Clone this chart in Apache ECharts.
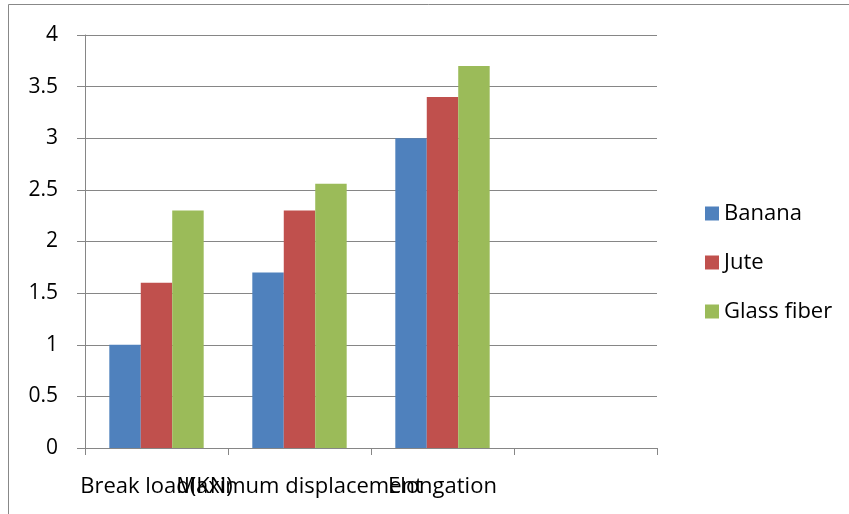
<!DOCTYPE html>
<html>
<head>
<meta charset="utf-8">
<script src="https://cdn.jsdelivr.net/npm/echarts@6/dist/echarts.min.js"></script>
<style>
  html, body { margin: 0; padding: 0; background: #fff; }
  #chart { width: 849px; height: 514px; }
</style>
</head>
<body>
<div id="chart"></div>
<script>
// Test categories (the fourth slot is left empty)
const categories = ['Break load(KN)', 'Maximum displacement', 'Elongation', ''];
const seriesNames = ['Banana', 'Jute', 'Glass fiber'];
const banana = [1.0, 1.7, 3.0, null];
const jute = [1.6, 2.3, 3.4, null];
const glassFiber = [2.3, 2.56, 3.7, null];
const yTicks = [0, 0.5, 1, 1.5, 2, 2.5, 3, 3.5, 4];

const colors = ['#4f81bd', '#c0504d', '#9bbb59'];
const gridColor = '#868686';
const font = '"Open Sans", "Liberation Sans", sans-serif';

const chart = echarts.init(document.getElementById('chart'), null, { renderer: 'canvas' });

const values = [banana, jute, glassFiber];

chart.setOption({
  animation: false,
  backgroundColor: '#ffffff',
  textStyle: { fontFamily: font },
  graphic: [
    { type: 'line', shape: { x1: 8.5, y1: 4.5, x2: 849, y2: 4.5 }, style: { stroke: '#888', lineWidth: 1 } },
    { type: 'line', shape: { x1: 8.5, y1: 4.5, x2: 8.5, y2: 514 }, style: { stroke: '#888', lineWidth: 1 } }
  ],
  grid: { left: 85, right: 192, top: 35, bottom: 66, containLabel: false },
  legend: {
    orient: 'vertical',
    left: 700,
    top: 197,
    itemWidth: 14,
    itemHeight: 14,
    itemGap: 26,
    icon: 'rect',
    textStyle: { fontFamily: font, fontSize: 22, lineHeight: 23, color: '#000' },
    data: seriesNames
  },
  xAxis: {
    type: 'category',
    data: categories,
    boundaryGap: true,
    axisLine: { lineStyle: { color: gridColor, width: 1 } },
    axisTick: { show: true, alignWithLabel: false, length: 7, lineStyle: { color: gridColor } },
    axisLabel: {
      interval: 0,
      margin: 28,
      color: '#000',
      fontFamily: font,
      fontSize: 22,
      hideOverlap: false
    }
  },
  yAxis: {
    type: 'value',
    min: 0,
    max: 4,
    interval: 0.5,
    axisLine: { show: true, lineStyle: { color: gridColor, width: 1 } },
    axisTick: { show: true, length: 8, lineStyle: { color: gridColor } },
    splitLine: { show: true, lineStyle: { color: gridColor, width: 1 } },
    axisLabel: {
      margin: 27,
      color: '#000',
      fontFamily: font,
      fontSize: 21,
      formatter: v => (yTicks.indexOf(v) >= 0 ? String(v) : '')
    }
  },
  series: seriesNames.map((name, i) => ({
    name: name,
    type: 'bar',
    data: values[i],
    barGap: '0%',
    barCategoryGap: '34%',
    itemStyle: { color: colors[i] }
  }))
});
</script>
</body>
</html>
